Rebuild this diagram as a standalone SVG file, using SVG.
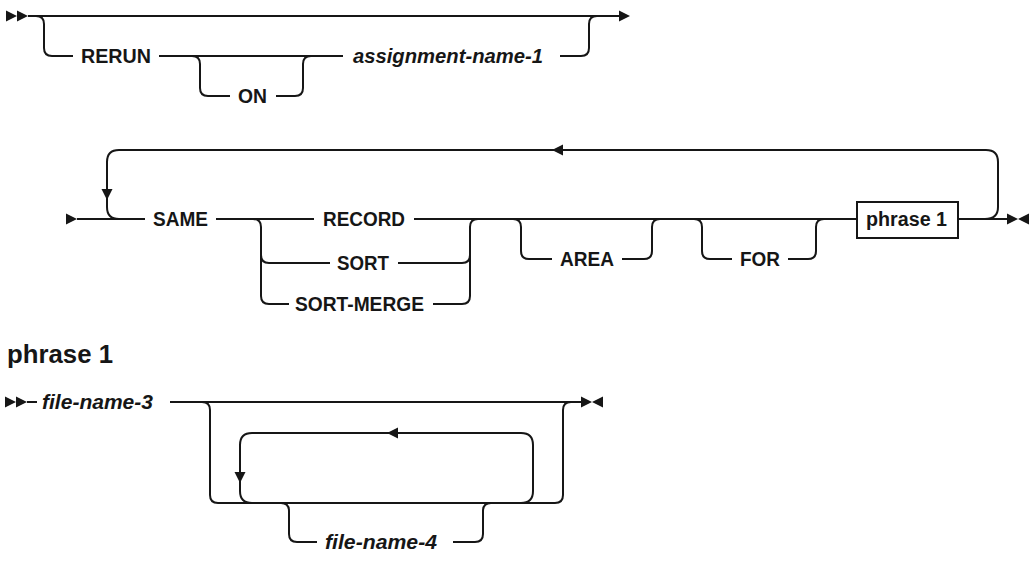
<svg xmlns="http://www.w3.org/2000/svg" width="1029" height="561" viewBox="0 0 1029 561">
<style>
.ln{fill:none;stroke:#161616;stroke-width:2}
.ah{fill:#161616;stroke:none}
.t{font-family:"Liberation Sans",Arial,sans-serif;font-size:20px;font-weight:bold;fill:#161616}
.i{font-style:italic}
.h{font-size:25px}
.box{fill:#fff;stroke:#161616;stroke-width:2}
</style>
<defs>
<path id="ar" d="M0,-5.5 L11,0 L0,5.5Z"/>
</defs>
<rect width="1029" height="561" fill="#fff"/>
<g id="connectors">
<!-- row 1 -->
<use href="#ar" class="ah" x="6" y="16"/>
<use href="#ar" class="ah" x="17" y="16"/>
<path class="ln" d="M28 16 H620"/>
<use href="#ar" class="ah" x="619" y="16"/>
<path class="ln" d="M36 16 Q44 16 44 24 V48 Q44 56 52 56 H73 M159 56 H343 M560 56 H581 Q589 56 589 48 V24 Q589 16 597 16"/>
<path class="ln" d="M192 56 Q200 56 200 64 V88 Q200 96 208 96 H230 M276 96 H295 Q303 96 303 88 V64 Q303 56 311 56"/>
<!-- row 2 -->
<use href="#ar" class="ah" x="66" y="219"/>
<path class="ln" d="M77 219 H145 M216 219 H314 M414 219 H857 M958 219 H1007"/>
<path class="ln" d="M985 219 Q998 219 998 207 V162 Q998 150 986 150 H119 Q107 150 107 162 V207 Q107 219 119 219"/>
<use href="#ar" class="ah" transform="translate(107 189) rotate(90)"/>
<use href="#ar" class="ah" transform="translate(563 150) rotate(180)"/>
<path class="ln" d="M253 219 Q261 219 261 227 V296 Q261 304 269 304 H289 M261 255 Q261 263 269 263 H330"/>
<path class="ln" d="M398 263 H462 Q470 263 470 255 M433 304 H462 Q470 304 470 296 V227 Q470 219 478 219"/>
<path class="ln" d="M513 219 Q521 219 521 227 V251 Q521 259 529 259 H552 M622 259 H644 Q652 259 652 251 V227 Q652 219 660 219"/>
<path class="ln" d="M694 219 Q702 219 702 227 V251 Q702 259 710 259 H732 M788 259 H808 Q816 259 816 251 V227 Q816 219 824 219"/>
<use href="#ar" class="ah" x="1007" y="219"/>
<use href="#ar" class="ah" transform="translate(1029 219) rotate(180)"/>
<!-- row 3 -->
<use href="#ar" class="ah" x="5" y="402"/>
<use href="#ar" class="ah" x="16" y="402"/>
<path class="ln" d="M27 402 H37 M170 402 H582"/>
<path class="ln" d="M202 402 Q210 402 210 410 V495 Q210 503 218 503 H555 Q563 503 563 495 V410 Q563 402 571 402"/>
<path class="ln" d="M521 503 Q533 503 533 491 V445 Q533 433 521 433 H252 Q240 433 240 445 V491 Q240 503 252 503"/>
<use href="#ar" class="ah" transform="translate(398 433) rotate(180)"/>
<use href="#ar" class="ah" transform="translate(240 472) rotate(90)"/>
<path class="ln" d="M281 503 Q289 503 289 511 V534 Q289 542 297 542 H317 M453 542 H475 Q483 542 483 534 V511 Q483 503 491 503"/>
<use href="#ar" class="ah" x="581" y="402"/>
<use href="#ar" class="ah" transform="translate(603 402) rotate(180)"/>
</g>
<g id="n-rerun"><text class="t" x="81" y="63" textLength="70" lengthAdjust="spacingAndGlyphs">RERUN</text></g>
<g id="n-on"><text class="t" x="238" y="103" textLength="29" lengthAdjust="spacingAndGlyphs">ON</text></g>
<g id="n-assignment-name-1"><text class="t i" x="353" y="63" textLength="190" lengthAdjust="spacingAndGlyphs">assignment-name-1</text></g>
<g id="n-same"><text class="t" x="153" y="226" textLength="55" lengthAdjust="spacingAndGlyphs">SAME</text></g>
<g id="n-record"><text class="t" x="323" y="226" textLength="82" lengthAdjust="spacingAndGlyphs">RECORD</text></g>
<g id="n-sort"><text class="t" x="337" y="270" textLength="52" lengthAdjust="spacingAndGlyphs">SORT</text></g>
<g id="n-sort-merge"><text class="t" x="295" y="311" textLength="129" lengthAdjust="spacingAndGlyphs">SORT-MERGE</text></g>
<g id="n-area"><text class="t" x="560" y="266" textLength="54" lengthAdjust="spacingAndGlyphs">AREA</text></g>
<g id="n-for"><text class="t" x="740" y="266" textLength="40" lengthAdjust="spacingAndGlyphs">FOR</text></g>
<g id="n-phrase1-ref"><rect class="box" x="857" y="202" width="101" height="36"/><text class="t" x="866" y="226" textLength="81" lengthAdjust="spacingAndGlyphs">phrase 1</text></g>
<g id="n-heading"><text class="t h" x="7" y="363" textLength="106" lengthAdjust="spacingAndGlyphs">phrase 1</text></g>
<g id="n-file-name-3"><text class="t i" x="42" y="409" textLength="111" lengthAdjust="spacingAndGlyphs">file-name-3</text></g>
<g id="n-file-name-4"><text class="t i" x="325" y="549" textLength="112" lengthAdjust="spacingAndGlyphs">file-name-4</text></g>
</svg>
